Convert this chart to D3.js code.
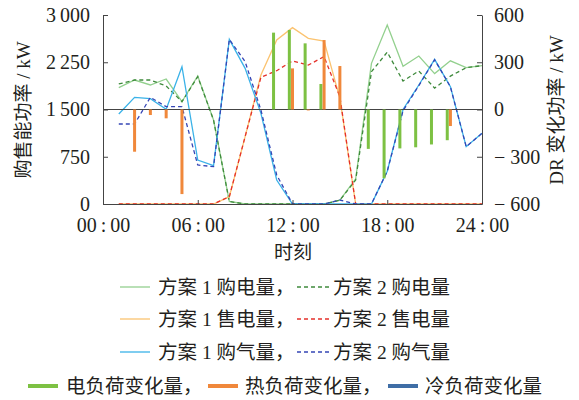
<!DOCTYPE html>
<html>
<head>
<meta charset="utf-8">
<script src="https://cdn.jsdelivr.net/npm/d3@7"></script>
<style>
  body { margin: 0; background: #fff; }
  svg text { font-family: "Liberation Serif", "Noto Sans CJK SC", serif; fill: #231f20; }
</style>
</head>
<body>
<div id="chart"></div>
<script>
// hours 1..24
const hours = d3.range(1, 25)

// left axis series (kW)
const buy1 = [1846, 1968, 1889, 1984, 1624, 2032, 1333, 40, 0, 0, 0, 0, 0, 0, 60, 400, 2233, 2841, 2185, 2349, 2070, 2272, 2166, 2196]
const buy2 = [1905, 1968, 1968, 1873, 1624, 2021, 1333, 40, 0, 0, 0, 0, 0, 0, 60, 380, 2100, 2410, 1952, 2111, 1840, 2030, 2164, 2196]
const sell1 = [0, 0, 0, 0, 0, 0, 0, 116, 1070, 2048, 2603, 2799, 2630, 2585, 1677, 0, 0, 0, 0, 0, 0, 0, 0, 0]
const sell2 = [0, 0, 0, 0, 0, 0, 0, 116, 1070, 2011, 2116, 2272, 2206, 2339, 1704, 0, 0, 0, 0, 0, 0, 0, 0, 0]
const gas1 = [1429, 1693, 1672, 1503, 2180, 698, 608, 2614, 2153, 1439, 381, 0, 0, 0, 0, 0, 0, 520, 1500, 1889, 2296, 1862, 910, 1122]
const gas2 = [1270, 1270, 1693, 1545, 1545, 619, 593, 2614, 2259, 1492, 460, 0, 0, 0, 63, 0, 0, 520, 1480, 1880, 2290, 1860, 910, 1122]

// right axis bars (kW)
const elecDR = [0, 0, 0, 0, 0, 0, 0, 0, 0, 0, 488, 505, 420, 162, 0, 0, -250, -437, -247, -240, -222, -195, 0, 0]
const heatDR = [0, -268, -35, -56, -537, 0, 0, 0, 0, 0, 0, 261, -6, 441, 276, 0, 0, 0, 0, 0, 0, -105, 0, 0]
const coolDR = [0, 0, 0, 0, 0, 0, 0, 0, 0, 0, 0, 0, 0, 0, 0, 0, 0, 0, 0, 0, 0, 0, 0, 0]

const xTicks = [0, 6, 12, 18, 24]
const xTickLabels = ["00\u2009:\u200900", "06\u2009:\u200900", "12\u2009:\u200900", "18\u2009:\u200900", "24\u2009:\u200900"]
const leftTicks = [0, 750, 1500, 2250, 3000]
const rightTicks = [-600, -300, 0, 300, 600]

const lineSeries = [
  { name: "方案 1 购电量", values: buy1, color: "#93d08e", dash: null },
  { name: "方案 2 购电量", values: buy2, color: "#3f8a3c", dash: "4,3" },
  { name: "方案 1 售电量", values: sell1, color: "#fbc370", dash: null },
  { name: "方案 2 售电量", values: sell2, color: "#e5312b", dash: "4,3" },
  { name: "方案 1 购气量", values: gas1, color: "#3ab2e8", dash: null },
  { name: "方案 2 购气量", values: gas2, color: "#3545b5", dash: "4,3" }
]
const barSeries = [
  { name: "电负荷变化量", values: elecDR, color: "#7dc143", offset: -0.2 },
  { name: "热负荷变化量", values: heatDR, color: "#f0883b", offset: 0 },
  { name: "冷负荷变化量", values: coolDR, color: "#3f6ea6", offset: 0.2 }
]

const width = 579, height = 400
const svg = d3.select("#chart").append("svg")
  .attr("width", width)
  .attr("height", height)

const x = d3.scaleLinear().domain([0, 24]).range([103, 482])
const yL = d3.scaleLinear().domain([0, 3000]).range([204, 15])
const yR = d3.scaleLinear().domain([-600, 600]).range([204, 15])

// lines
const line = d3.line()
  .x((d, i) => x(hours[i]))
  .y(d => yL(d))

const gLines = svg.append("g")
lineSeries.forEach(s => {
  gLines.append("path")
    .datum(s.values)
    .attr("fill", "none")
    .attr("stroke", s.color)
    .attr("stroke-width", 1.3)
    .attr("stroke-dasharray", s.dash)
    .attr("d", line)
})

// middle zero line of right axis
svg.append("line")
  .attr("x1", x(0)).attr("x2", x(24))
  .attr("y1", yR(0)).attr("y2", yR(0))
  .attr("stroke", "#444").attr("stroke-width", 1)

// bars
const barW = 3
barSeries.forEach(s => {
  svg.append("g").selectAll("rect")
    .data(s.values)
    .join("rect")
    .attr("x", (d, i) => x(hours[i] + s.offset) - barW / 2)
    .attr("y", d => yR(Math.max(0, d)))
    .attr("width", barW)
    .attr("height", d => Math.abs(yR(d) - yR(0)))
    .attr("fill", s.color)
})

// axes
const axisL = d3.axisLeft(yL).tickValues(leftTicks).tickSizeInner(-5).tickSizeOuter(0).tickPadding(13)
  .tickFormat(d => d >= 1000 ? Math.floor(d / 1000) + "\u2009" + d3.format("03d")(d % 1000) : String(d))
const axisR = d3.axisRight(yR).tickValues(rightTicks).tickSizeInner(-5).tickSizeOuter(0).tickPadding(12)
  .tickFormat(d => d < 0 ? "\u2212 " + (-d) : String(d))
const axisB = d3.axisBottom(x).tickValues(xTicks).tickSizeInner(-4).tickSizeOuter(0).tickPadding(14)
  .tickFormat((d, i) => xTickLabels[i])

const styleAxis = g => {
  g.select(".domain").attr("stroke", "#444")
  g.selectAll(".tick line").attr("stroke", "#444")
  g.selectAll("text").attr("font-size", 20).attr("fill", "#231f20")
    .style("font-family", "'Liberation Serif', serif")
}

svg.append("g").attr("transform", `translate(${x(0)},0)`).call(axisL).call(styleAxis)
svg.append("g").attr("transform", `translate(${x(24)},0)`).call(axisR).call(styleAxis)
svg.append("g").attr("transform", `translate(0,${yL(0)})`).call(axisB).call(styleAxis)

// axis titles
svg.append("text")
  .attr("transform", "translate(30,110) rotate(-90)")
  .attr("text-anchor", "middle")
  .attr("font-size", 19)
  .text("购售能功率 / kW")
svg.append("text")
  .attr("transform", "translate(563,110) rotate(-90)")
  .attr("text-anchor", "middle")
  .attr("font-size", 19)
  .text("DR 变化功率 / kW")
svg.append("text")
  .attr("x", 293).attr("y", 259)
  .attr("text-anchor", "middle")
  .attr("font-size", 19)
  .text("时刻")

// legend
const legRows = [287, 319, 352]
lineSeries.forEach((s, i) => {
  const row = Math.floor(i / 2), col = i % 2
  const ly = legRows[row]
  const x0 = col === 0 ? 120 : 297
  const x1 = col === 0 ? 150 : 330
  svg.append("line")
    .attr("x1", x0).attr("x2", x1).attr("y1", ly).attr("y2", ly)
    .attr("stroke", s.color).attr("stroke-width", 1.3)
    .attr("stroke-dasharray", s.dash)
  svg.append("text")
    .attr("x", col === 0 ? 158 : 333).attr("y", ly + 7)
    .attr("font-size", 19.5)
    .text(col === 0 ? s.name + "，" : s.name)
})
const legBarX = [[28, 58, 66], [208, 238, 245], [388, 418, 425]]
barSeries.forEach((s, i) => {
  const ly = 386
  const [a, b, t] = legBarX[i]
  svg.append("line")
    .attr("x1", a).attr("x2", b).attr("y1", ly).attr("y2", ly)
    .attr("stroke", s.color).attr("stroke-width", 4)
  svg.append("text")
    .attr("x", t).attr("y", ly + 7)
    .attr("font-size", 19.5)
    .text(i < 2 ? s.name + "，" : s.name)
})
</script>
</body>
</html>
